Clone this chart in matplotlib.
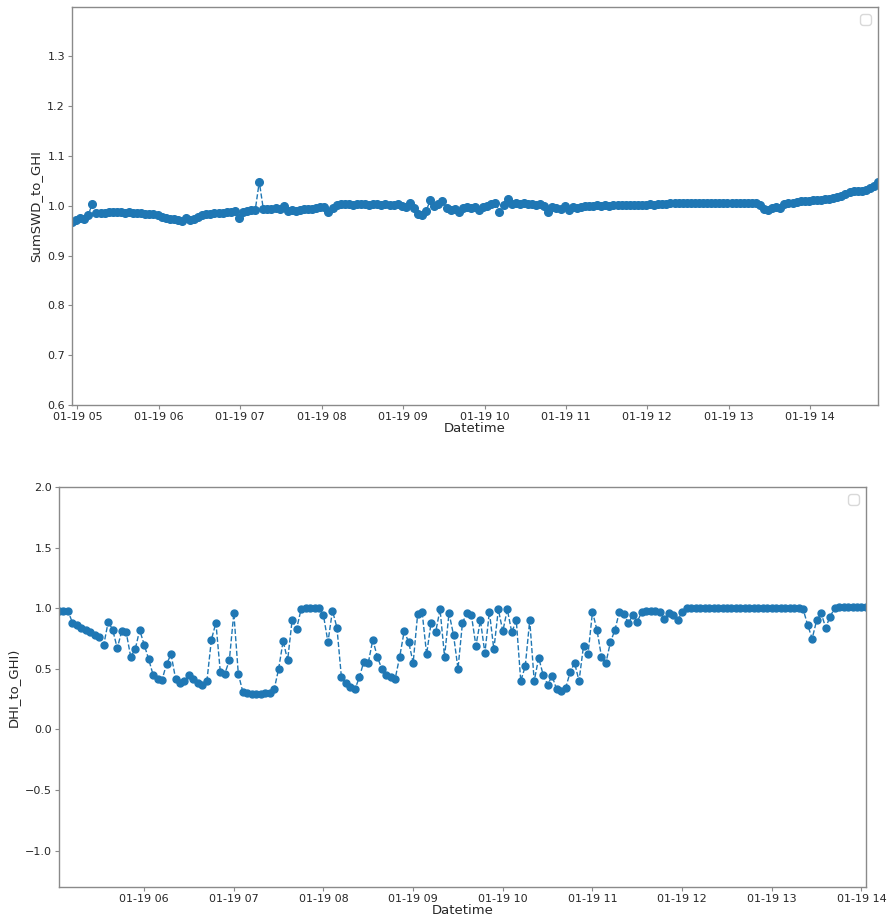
import numpy as np
import pandas as pd
import matplotlib
matplotlib.use("Agg")
import matplotlib.pyplot as plt
import matplotlib.dates as mdates

# --- top panel: SumSWD / GHI, 3-minute samples from 04:56 ---
swd_start = "2020-01-19 04:56"
swd_ratio = [
    0.968, 0.972, 0.975, 0.974, 0.982, 1.004, 0.985, 0.985, 0.986, 0.987,
    0.988, 0.988, 0.987, 0.986, 0.987, 0.985, 0.986, 0.985, 0.984, 0.984,
    0.983, 0.981, 0.978, 0.976, 0.974, 0.973, 0.971, 0.970, 0.975, 0.972,
    0.974, 0.978, 0.981, 0.983, 0.984, 0.985, 0.985, 0.986, 0.988, 0.987,
    0.989, 0.976, 0.988, 0.990, 0.991, 0.991, 1.048, 0.993, 0.993, 0.994,
    0.995, 0.994, 0.999, 0.990, 0.991, 0.989, 0.991, 0.993, 0.994, 0.994,
    0.996, 0.997, 0.998, 0.988, 0.996, 1.002, 1.003, 1.004, 1.003, 1.002,
    1.004, 1.003, 1.004, 1.002, 1.003, 1.004, 1.002, 1.003, 1.001, 1.002,
    1.003, 1.000, 0.998, 1.005, 0.996, 0.984, 0.982, 0.990, 1.011, 1.000,
    1.003, 1.009, 0.996, 0.992, 0.994, 0.988, 0.996, 0.998, 0.996, 0.998,
    0.992, 0.997, 1.000, 1.004, 1.006, 0.988, 1.001, 1.013, 1.004, 1.005,
    1.004, 1.005, 1.003, 1.004, 1.002, 1.003, 1.000, 0.988, 0.998, 0.996,
    0.994, 0.999, 0.992, 0.997, 0.995, 0.998, 0.999, 1.000, 1.000, 1.001,
    1.000, 1.001, 1.000, 1.001, 1.002, 1.002, 1.001, 1.002, 1.001, 1.002,
    1.001, 1.002, 1.003, 1.002, 1.003, 1.004, 1.004, 1.005, 1.005, 1.006,
    1.005, 1.006, 1.006, 1.005, 1.006, 1.006, 1.005, 1.006, 1.006, 1.005,
    1.006, 1.006, 1.005, 1.006, 1.006, 1.005, 1.006, 1.005, 1.005, 1.001,
    0.994, 0.992, 0.996, 0.998, 0.996, 1.003, 1.005, 1.006, 1.008, 1.009,
    1.009, 1.010, 1.011, 1.011, 1.012, 1.013, 1.014, 1.015, 1.017, 1.020,
    1.024, 1.027, 1.029, 1.029, 1.029, 1.031, 1.035, 1.040, 1.047,
]

# --- bottom panel: DHI / GHI, 3-minute samples from 05:03 ---
dhi_start = "2020-01-19 05:03"
dhi_ratio = [
    0.98, 0.98, 0.98, 0.88, 0.86, 0.84, 0.82, 0.80, 0.78, 0.76,
    0.70, 0.89, 0.82, 0.67, 0.81, 0.80, 0.60, 0.66, 0.82, 0.70,
    0.58, 0.45, 0.42, 0.41, 0.54, 0.62, 0.42, 0.38, 0.40, 0.45,
    0.42, 0.38, 0.37, 0.40, 0.74, 0.88, 0.47, 0.46, 0.57, 0.96,
    0.46, 0.31, 0.30, 0.29, 0.29, 0.29, 0.30, 0.30, 0.33, 0.50,
    0.73, 0.57, 0.90, 0.83, 0.99, 1.00, 1.00, 1.00, 1.00, 0.94,
    0.72, 0.98, 0.84, 0.43, 0.38, 0.35, 0.33, 0.43, 0.56, 0.55,
    0.74, 0.60, 0.50, 0.45, 0.43, 0.42, 0.60, 0.81, 0.72, 0.55,
    0.95, 0.97, 0.62, 0.88, 0.80, 0.99, 0.60, 0.96, 0.78, 0.50,
    0.88, 0.96, 0.94, 0.69, 0.90, 0.63, 0.97, 0.66, 0.99, 0.81,
    0.99, 0.80, 0.90, 0.40, 0.52, 0.90, 0.40, 0.59, 0.45, 0.37,
    0.44, 0.33, 0.32, 0.34, 0.47, 0.55, 0.40, 0.69, 0.62, 0.97,
    0.82, 0.60, 0.55, 0.72, 0.82, 0.97, 0.95, 0.88, 0.94, 0.89,
    0.97, 0.98, 0.98, 0.98, 0.97, 0.91, 0.96, 0.94, 0.90, 0.97,
    1.00, 1.00, 1.00, 1.00, 1.00, 1.00, 1.00, 1.00, 1.00, 1.00,
    1.00, 1.00, 1.00, 1.00, 1.00, 1.00, 1.00, 1.00, 1.00, 1.00,
    1.00, 1.00, 1.00, 1.00, 1.00, 1.00, 0.99, 0.86, 0.75, 0.90,
    0.96, 0.84, 0.93, 1.00, 1.01, 1.01, 1.01, 1.01, 1.01, 1.01,
    1.01,
]

swd_time = pd.date_range(swd_start, periods=len(swd_ratio), freq="3min")
dhi_time = pd.date_range(dhi_start, periods=len(dhi_ratio), freq="3min")

blue = "#1f77b4"
spine_grey = "#8a8a8a"
text_col = "#262626"

fig = plt.figure(figsize=(8.88, 9.19), dpi=100)
ax1 = fig.add_axes([0.0811, 0.5593, 0.9077, 0.4331])
ax2 = fig.add_axes([0.0664, 0.0348, 0.9088, 0.4353])


def style(ax, ylabel):
    for s in ax.spines.values():
        s.set_color(spine_grey)
        s.set_linewidth(1.0)
    ax.tick_params(labelsize=8, colors=text_col, color=spine_grey, length=3,
                   pad=2)
    ax.set_xlabel("Datetime", fontsize=9.5, color=text_col, labelpad=0)
    ax.set_ylabel(ylabel, fontsize=9.5, color=text_col)
    ax.xaxis.set_major_locator(mdates.HourLocator())
    ax.xaxis.set_major_formatter(mdates.DateFormatter("%m-%d %H"))
    leg = ax.legend(handles=[], loc="upper right")
    leg.get_frame().set_edgecolor("#d0d0d0")


ax1.plot(swd_time, swd_ratio, marker="o", linestyle="--", color=blue,
         markersize=5.5, linewidth=1)
ax1.set_xlim(swd_time[0], swd_time[-1])
ax1.set_ylim(0.6, 1.399)
ax1.set_yticks([0.6, 0.7, 0.8, 0.9, 1.0, 1.1, 1.2, 1.3])
style(ax1, "SumSWD_to_GHI")

ax2.plot(dhi_time, dhi_ratio, marker="o", linestyle="--", color=blue,
         markersize=5, linewidth=1)
ax2.set_xlim(dhi_time[0], dhi_time[-1])
ax2.set_ylim(-1.3, 2.0)
ax2.set_yticks([-1.0, -0.5, 0.0, 0.5, 1.0, 1.5, 2.0])
style(ax2, "DHI_to_GHI)")

fig.savefig("out.png", dpi=100)
